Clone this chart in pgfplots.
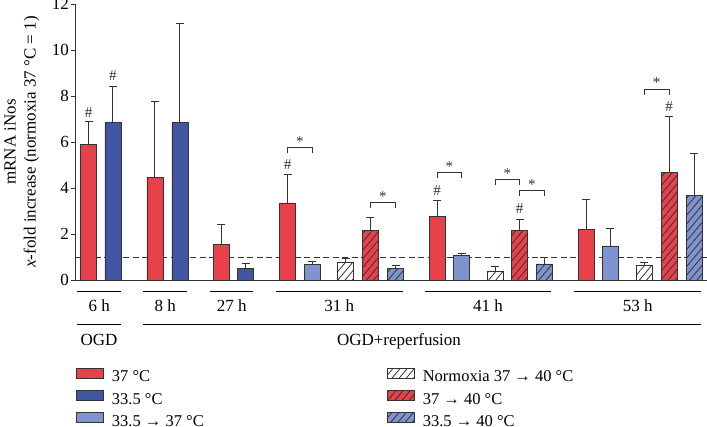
\documentclass[border=0pt]{standalone}
\usepackage{pgfplots}
\usepackage{pgfplotstable}
\pgfplotsset{compat=1.18}
\usepackage{fontspec}
\setmainfont{Liberation Serif}
\usetikzlibrary{patterns.meta}

\definecolor{cRed}{HTML}{E8414B}
\definecolor{cDark}{HTML}{4155A3}
\definecolor{cLight}{HTML}{7F93CF}
\definecolor{cLine}{HTML}{333333}

\newcommand{\fsA}{\fontsize{17}{20}\selectfont}
\newcommand{\fsL}{\fontsize{16.5}{19}\selectfont}
\newcommand{\fsS}{\fontsize{15}{17}\selectfont}

\tikzset{hatch/.style={postaction={pattern={Lines[angle=50,distance=5.5pt,line width=0.8pt]},pattern color=cLine}}}

\pgfplotsset{
  mybar/.style={ybar, bar width=16, bar shift=0pt, draw=cLine, line width=0.8pt,
    error bars/y dir=plus, error bars/y explicit,
    error bars/error bar style={line width=1pt, draw=cLine, solid},
    error bars/error mark options={rotate=90, mark size=4pt, line width=1pt, draw=cLine}},
}

% significance: hash above a bar, bracket with a star
\newcommand{\hash}[2]{\node[font=\fsS, text=cLine, inner sep=0pt] at (axis cs:#1,#2) {\#};}
\newcommand{\sig}[3]{%
  \draw[cLine, line width=1pt] (axis cs:#1,#3-0.24) |- (axis cs:#2,#3) -- (axis cs:#2,#3-0.24);
  \node[font=\fsS, text=cLine, inner sep=0pt, anchor=base] at (axis cs:{(#1+#2)/2},#3+0.05) {*};}
\newcommand{\grp}[3]{%
  \draw[black, line width=1.1pt] (axis cs:#1,-0.509) -- (axis cs:#2,-0.509);
  \node[font=\fsA, anchor=base, inner sep=0pt] at (axis cs:{(#1+#2)/2},-1.37) {#3};}

% x = bar centre (px), y = mean, e = upper error
\pgfplotstableread{
x     y     e
88.7  5.88  0.99
155   4.46  3.32
221   1.54  0.88
287.5 3.35  1.23
437   2.75  0.70
586   2.20  1.29
}\tRed
\pgfplotstableread{
x     y     e
113   6.84  1.59
180   6.85  4.32
245.5 0.51  0.19
}\tDark
\pgfplotstableread{
x     y     e
312   0.68  0.12
461.5 1.07  0.10
610   1.48  0.78
}\tLight
\pgfplotstableread{
x     y     e
345.5 0.77  0.16
495   0.39  0.19
644   0.64  0.11
}\tNorm
\pgfplotstableread{
x     y     e
370   2.16  0.56
519.7 2.16  0.48
669   4.68  2.42
}\tRedH
\pgfplotstableread{
x     y     e
395.5 0.51  0.11
544   0.70  0.27
694   3.68  1.80
}\tLightH

\begin{document}
\begin{tikzpicture}
\begin{axis}[
  scale only axis, width=631pt, height=276pt,
  xmin=76, xmax=707, ymin=0, ymax=12,
  axis x line=bottom, axis y line=left,
  axis line style={-, line width=1pt, draw=cLine},
  xtick=\empty, ytick={0,2,...,12},
  tick align=outside, major tick length=5pt,
  tick style={line width=1pt, draw=cLine},
  yticklabel style={font=\fsA, inner sep=2pt},
  /pgf/number format/assume math mode=true,
  ylabel={mRNA iNos\\\textit{x}-fold increase (normoxia 37 °C = 1)},
  ylabel style={font=\fsA, align=center, inner sep=0pt,
    at={(axis description cs:-0.0580,0.5)}, anchor=south},
  clip=false,
  legend columns=2,
  legend cell align=left,
  legend image code/.code={\draw[#1] (0pt,-0.5pt) rectangle (27pt,9.5pt);},
  legend style={draw=none, fill=none, inner sep=0pt, font=\fsL,
    at={(0.0,-0.3175)}, anchor=north west,
    row sep=4.5pt, column sep=0pt,
    nodes={inner sep=0pt, text height=12pt, text depth=3.5pt},
    /tikz/every odd column/.append style={column sep=8pt}},
]
\addplot[cLine, line width=0.8pt, dash pattern=on 6pt off 3.5pt, forget plot] coordinates {(76,1) (707,1)};

\addplot[mybar, fill=cRed, forget plot] table[x=x, y=y, y error=e] {\tRed};
\addplot[mybar, fill=cDark, forget plot] table[x=x, y=y, y error=e] {\tDark};
\addplot[mybar, fill=cLight, forget plot] table[x=x, y=y, y error=e] {\tLight};
\addplot[mybar, fill=white, hatch, forget plot] table[x=x, y=y, y error=e] {\tNorm};
\addplot[mybar, fill=cRed, hatch, forget plot] table[x=x, y=y, y error=e] {\tRedH};
\addplot[mybar, fill=cLight, hatch, forget plot] table[x=x, y=y, y error=e] {\tLightH};

% legend, row by row
\addlegendimage{fill=cRed, draw=cLine, line width=0.8pt}
\addlegendentry{\makebox[275pt][l]{37 °C}}
\addlegendimage{fill=white, draw=cLine, line width=0.8pt, hatch}
\addlegendentry{Normoxia 37 → 40 °C}
\addlegendimage{fill=cDark, draw=cLine, line width=0.8pt}
\addlegendentry{\makebox[275pt][l]{33.5 °C}}
\addlegendimage{fill=cRed, draw=cLine, line width=0.8pt, hatch}
\addlegendentry{37 → 40 °C}
\addlegendimage{fill=cLight, draw=cLine, line width=0.8pt}
\addlegendentry{\makebox[275pt][l]{33.5 → 37 °C}}
\addlegendimage{fill=cLight, draw=cLine, line width=0.8pt, hatch}
\addlegendentry{33.5 → 40 °C}

\hash{88.7}{7.30}
\hash{113}{8.87}
\hash{287.5}{5.00}
\hash{437}{3.88}
\hash{519.7}{3.10}
\hash{669}{7.53}

\sig{287.5}{312}{5.77}
\sig{370}{395.5}{3.36}
\sig{437}{461.5}{4.68}
\sig{495}{519.7}{4.38}
\sig{519.7}{544}{3.88}
\sig{644}{669}{8.30}

\grp{77.5}{120.8}{6 h}
\grp{143.4}{187}{8 h}
\grp{210}{253.4}{27 h}
\grp{276}{402.6}{31 h}
\grp{424.7}{551.4}{41 h}
\grp{574.4}{701}{53 h}

\draw[black, line width=1.1pt] (axis cs:77.5,-1.926) -- (axis cs:120.8,-1.926);
\draw[black, line width=1.1pt] (axis cs:143.4,-1.926) -- (axis cs:701,-1.926);
\node[font=\fsA, anchor=base, inner sep=0pt] at (axis cs:99,-2.826) {OGD};
\node[font=\fsA, anchor=base, inner sep=0pt] at (axis cs:399,-2.826) {OGD+reperfusion};
\end{axis}
\pgfresetboundingbox
\path[use as bounding box] (-76pt,-146pt) rectangle (631pt,280pt);
\end{tikzpicture}
\end{document}
